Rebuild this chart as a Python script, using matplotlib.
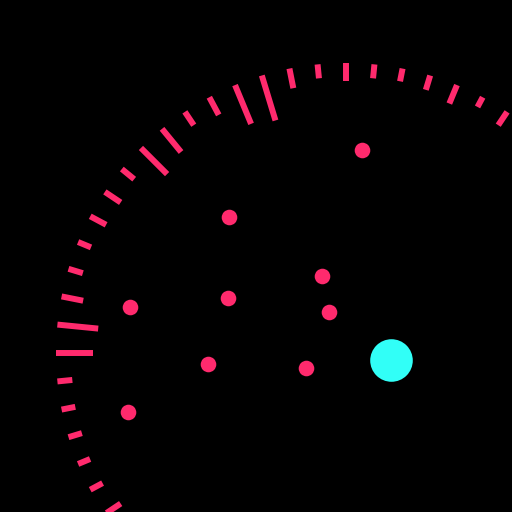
import numpy as np
import matplotlib
matplotlib.use("Agg")
import matplotlib.pyplot as plt

PINK = "#ff2a6d"
CYAN = "#31fff7"

# ring of ticks: 64 slots around the circle, only slots 10..38 are in view
n_slots = 64
slot_idx = np.arange(10, 39)
tick_len = [16, 11, 20, 15, 13, 14, 18, 14, 20, 47,
            42, 20, 16, 30, 37, 16, 19, 18, 14, 15,
            22, 41, 37, 15, 14, 14, 13, 14, 19]
r_outer = 290

# dots (pixel-like coords, y down)
dot_x = [362, 229, 322, 228, 130, 329, 208, 306, 128]
dot_y = [150, 217, 276, 298, 307, 312, 364, 368, 412]
big_x = [391]
big_y = [360]

fig = plt.figure(figsize=(5.12, 5.12), dpi=100, facecolor="black")

# polar axes centred at pixel (346, 353), radius 300 px
cx, cy, rad = 346 / 512, 1 - 353 / 512, 300 / 512
ax = fig.add_axes([cx - rad, cy - rad, 2 * rad, 2 * rad], projection="polar")
ax.set_facecolor("black")
ax.set_ylim(0, 300)
theta = slot_idx * 2 * np.pi / n_slots
lens = np.array(tick_len)
ax.vlines(theta, r_outer - lens, r_outer, colors=PINK, linewidth=4.3,
          capstyle="butt")
ax.grid(False)
ax.set_xticks([])
ax.set_yticks([])
ax.spines["polar"].set_visible(False)

# overlay for the dots
ax2 = fig.add_axes([0, 0, 1, 1])
ax2.set_facecolor("none")
ax2.set_xlim(0, 512)
ax2.set_ylim(512, 0)
ax2.axis("off")
ax2.scatter(dot_x, dot_y, s=126, color=PINK, linewidths=0)
ax2.scatter(big_x, big_y, s=940, color=CYAN, linewidths=0)

fig.savefig("out.png", dpi=100, facecolor="black")
